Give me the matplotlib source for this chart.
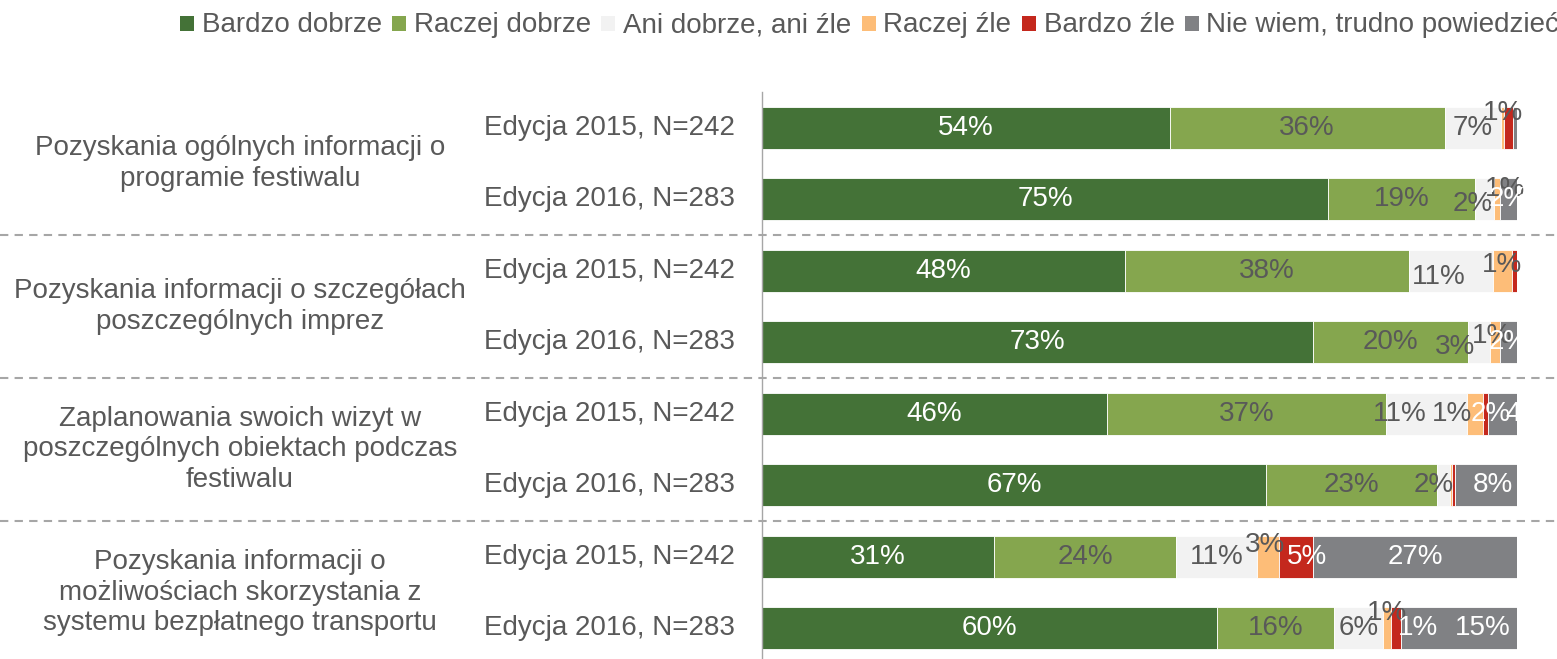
import numpy as np
import matplotlib
matplotlib.use("Agg")
import matplotlib.pyplot as plt
import matplotlib.transforms as mtransforms
from matplotlib.patches import Rectangle

plt.rcParams['font.family'] = ['Liberation Sans', 'DejaVu Sans']

# categories (one per pair of bars) and row labels
categories = [
    "Pozyskania ogólnych informacji o\nprogramie festiwalu",
    "Pozyskania informacji o szczegółach\nposzczególnych imprez",
    "Zaplanowania swoich wizyt w\nposzczególnych obiektach podczas\nfestiwalu",
    "Pozyskania informacji o\nmożliwościach skorzystania z\nsystemu bezpłatnego transportu",
]
editions = ["Edycja 2015, N=242", "Edycja 2016, N=283"]
series = ["Bardzo dobrze", "Raczej dobrze", "Ani dobrze, ani źle",
          "Raczej źle", "Bardzo źle", "Nie wiem, trudno powiedzieć"]

# shares per row (top to bottom), percent
bardzo_dobrze = [54.0, 75.0, 48.0, 73.0, 45.7, 66.8, 30.7, 60.3]
raczej_dobrze = [36.4, 19.5, 37.6, 20.5, 37.0, 22.6, 24.1, 15.6]
ani_ani       = [7.5, 2.5, 11.1, 2.9, 10.7, 1.7, 10.7, 6.4]
raczej_zle    = [0.4, 0.7, 2.5, 1.3, 2.1, 0.3, 2.9, 1.1]
bardzo_zle    = [1.2, 0.0, 0.7, 0.0, 0.7, 0.4, 4.5, 1.3]
nie_wiem      = [0.5, 2.3, 0.0, 2.3, 3.8, 8.2, 27.0, 15.4]

# data labels as printed on the chart ('' = no label)
labels = [
    ["54%", "36%", "7%", "1%", "", ""],
    ["75%", "19%", "2%", "1%", "", "2%"],
    ["48%", "38%", "11%", "1%", "", ""],
    ["73%", "20%", "3%", "1%", "", "2%"],
    ["46%", "37%", "11%", "1%", "2%", "4%"],
    ["67%", "23%", "2%", "", "", "8%"],
    ["31%", "24%", "11%", "3%", "5%", "27%"],
    ["60%", "16%", "6%", "1%", "1%", "15%"],
]

colors = ["#447237", "#85A64E", "#F2F2F2", "#FDBD78", "#C4281D", "#808184"]
label_colors = ["white", "#595959", "#595959", "#595959", "white", "white"]
text_gray = "#595959"

# small manual label nudges (pixels, x right / y down), as in the original
nudges = {
    (0, 3): (0, -15), (1, 2): (-12, 5), (1, 3): (8, -10),
    (2, 2): (-12, 6), (2, 3): (0, -6), (3, 2): (-24, 5), (3, 3): (-3, -6),
    (4, 2): (-27, 0), (4, 3): (-23, 0), (4, 4): (5, 0), (4, 5): (23, 0),
    (5, 2): (-10, 0), (5, 5): (7, 0), (6, 3): (-3, -12), (6, 4): (11, 0),
    (7, 3): (0, -15), (7, 4): (22, 0), (7, 5): (24, 0),
}

W, H = 1557, 659
fig = plt.figure(figsize=(W / 100, H / 100), dpi=100)
ax = fig.add_axes([762 / W, 1 - 664 / H, 755 / W, 572 / H])

data = np.array([bardzo_dobrze, raczej_dobrze, ani_ani,
                 raczej_zle, bardzo_zle, nie_wiem])
data = data / data.sum(axis=0) * 100
n_rows = data.shape[1]
y = np.arange(n_rows)

left = np.zeros(n_rows)
for s in range(len(series)):
    ax.barh(y, data[s], left=left, height=0.59, color=colors[s],
            edgecolor="white", linewidth=0.6, label=series[s])
    for r in range(n_rows):
        txt = labels[r][s]
        if not txt:
            continue
        dx, dy = nudges.get((r, s), (0, 0))
        ax.annotate(txt, (left[r] + data[s, r] / 2, y[r]),
                    xytext=(dx, -dy), textcoords="offset pixels",
                    ha="center", va="center", fontsize=20,
                    color=label_colors[s], annotation_clip=False)
    left += data[s]

ax.set_xlim(0, 100)
ax.set_ylim(n_rows - 0.5, -0.5)
ax.set_xticks([])
ax.set_yticks([])
for side in ["top", "right", "bottom"]:
    ax.spines[side].set_visible(False)
ax.spines["left"].set_color("#A6A6A6")
ax.spines["left"].set_linewidth(1)

trans = mtransforms.blended_transform_factory(fig.transFigure, ax.transData)

# edition labels
for r in range(n_rows):
    ax.text(735 / W, y[r], editions[r % 2], transform=trans, ha="right",
            va="center", fontsize=20, color=text_gray)

# category labels and dashed separators
for g, cat in enumerate(categories):
    yc = (y[2 * g] + y[2 * g + 1]) / 2
    ax.text(240 / W, yc, cat, transform=trans, ha="center", va="center",
            fontsize=20, color=text_gray, linespacing=1.22)
    if g > 0:
        ax.plot([0, 1], [yc - 1, yc - 1], transform=trans, clip_on=False,
                color="#A6A6A6", lw=1.5, ls=(0, (4, 3)))

# legend drawn by hand along the top (runs off the right edge like the original)
renderer = fig.canvas.get_renderer()
x = 180
for name, col in zip(series, colors):
    fig.patches.append(Rectangle((x / W, 1 - 31 / H), 14 / W, 15 / H,
                                 transform=fig.transFigure, facecolor=col,
                                 edgecolor="none"))
    t = fig.text((x + 22) / W, 1 - 32 / H, name, fontsize=20,
                 color=text_gray, ha="left", va="baseline")
    x = t.get_window_extent(renderer).x1 + 10

fig.savefig("out.png", dpi=100)
